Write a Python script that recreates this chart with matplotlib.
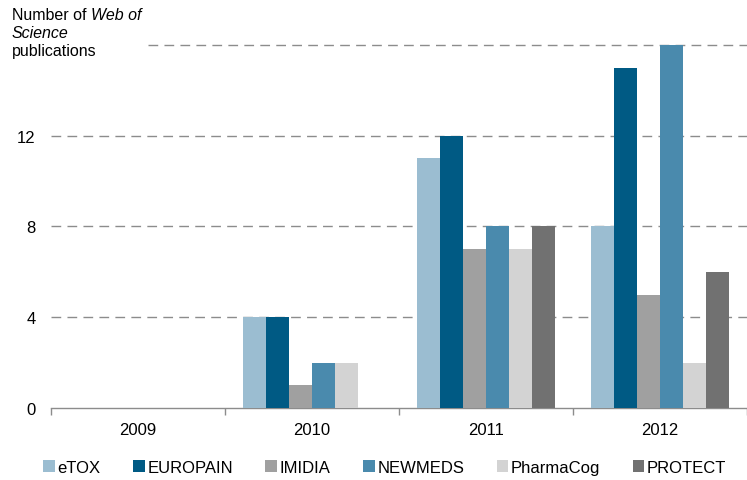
import matplotlib.pyplot as plt
import numpy as np
from matplotlib.patches import Patch

plt.rcParams["font.family"] = ["Liberation Sans", "DejaVu Sans"]

YEARS = ["2009", "2010", "2011", "2012"]
PROJECTS = ["eTOX", "EUROPAIN", "IMIDIA", "NEWMEDS", "PharmaCog", "PROTECT"]
ETOX = [0, 4, 11, 8]
EUROPAIN = [0, 4, 12, 15]
IMIDIA = [0, 1, 7, 5]
NEWMEDS = [0, 2, 8, 16]
PHARMACOG = [0, 2, 7, 2]
PROTECT = [0, 0, 8, 6]
Y_TICKS = [0, 4, 8, 12]

COLORS = ["#9BBDD1", "#005A84", "#A0A0A0", "#4A8AAD", "#D3D3D3", "#717171"]
GRID_COLOR = "#8C8C8C"

series = [ETOX, EUROPAIN, IMIDIA, NEWMEDS, PHARMACOG, PROTECT]

fig = plt.figure(figsize=(7.47, 4.81), dpi=100)
ax = fig.add_axes([0.0683, 0.1497, 0.9317, 0.7547])

x = np.arange(len(YEARS))
width = 0.132
n = len(PROJECTS)
for i, (name, vals, col) in enumerate(zip(PROJECTS, series, COLORS)):
    offset = (i - (n - 1) / 2.0) * width
    ax.bar(x + offset, vals, width, color=col, label=name, zorder=3,
           clip_on=False)

ax.set_xlim(-0.5, len(YEARS) - 0.5)
ax.set_ylim(0, 16)

# dashed gridlines
for y in [4, 8, 12]:
    ax.axhline(y, color=GRID_COLOR, lw=1.0, ls=(0, (7, 4.5)), zorder=1)
ax.axhline(16, xmin=0.139, color=GRID_COLOR, lw=1.0, ls=(0, (7, 4.5)),
           zorder=1, clip_on=False)

ax.set_yticks(Y_TICKS)
ax.set_yticklabels([str(t) for t in Y_TICKS], fontsize=12)
ax.tick_params(axis="y", length=0, pad=11)

ax.set_xticks(x)
ax.set_xticklabels(YEARS, fontsize=12)
ax.set_xticks(np.arange(len(YEARS) + 1) - 0.5, minor=True)
ax.tick_params(axis="x", which="major", length=0, pad=10)
ax.tick_params(axis="x", which="minor", length=5, color=GRID_COLOR, width=1)

for side in ["top", "right", "left"]:
    ax.spines[side].set_visible(False)
ax.spines["bottom"].set_color(GRID_COLOR)
ax.spines["bottom"].set_linewidth(1.0)

# y axis title with mixed italic
fs_title = 11.5
t1 = fig.text(12 / 747, 1 - 20 / 481, "Number of ", fontsize=fs_title,
              va="baseline")
ax.annotate("Web of", xy=(1, 0), xycoords=t1, fontsize=fs_title,
            style="italic", va="bottom", annotation_clip=False)
fig.text(12 / 747, 1 - 38 / 481, "Science", fontsize=fs_title, style="italic",
         va="baseline")
fig.text(12 / 747, 1 - 56 / 481, "publications", fontsize=fs_title,
         va="baseline")

handles = [Patch(facecolor=c, edgecolor="none") for c in COLORS]
fig.legend(handles, PROJECTS, loc="lower left", bbox_to_anchor=(0.038, -0.02),
           ncol=6, frameon=False, fontsize=12, handlelength=0.7,
           handleheight=0.7, handletextpad=0.15, columnspacing=1.95)

fig.savefig("out.png", dpi=100)
